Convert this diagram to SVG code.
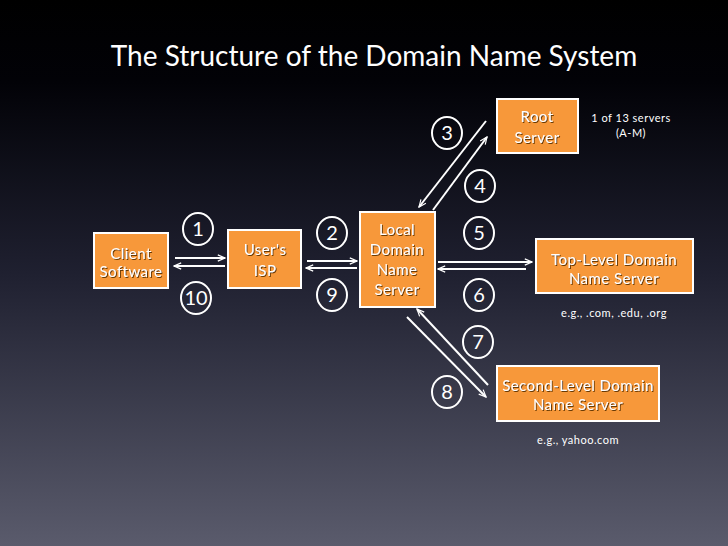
<svg xmlns="http://www.w3.org/2000/svg" width="728" height="546" viewBox="0 0 728 546">
<defs>
<linearGradient id="bg" x1="0" y1="0" x2="0" y2="1">
<stop offset="0" stop-color="#000000"/>
<stop offset="0.15" stop-color="#020207"/>
<stop offset="0.5" stop-color="#1f2030"/>
<stop offset="1" stop-color="#5a5b6c"/>
</linearGradient>
<filter id="sh" x="-10%" y="-10%" width="130%" height="130%">
<feDropShadow dx="1" dy="1" stdDeviation="0.4" flood-color="#5a3000" flood-opacity="0.9"/>
</filter>
<marker id="ah" viewBox="0 0 10 10" refX="9" refY="5" markerWidth="9" markerHeight="9" markerUnits="userSpaceOnUse" orient="auto">
<path d="M1,1.5 L9,5 L1,8.5" fill="none" stroke="#ffffff" stroke-width="1.3"/>
</marker>
<style>
.box{fill:#f7983a;stroke:#ffffff;stroke-width:2}
.bt{font-family:"Lato","Liberation Sans",sans-serif;font-size:15px;letter-spacing:0.45px;fill:#ffffff;text-anchor:middle;filter:url(#sh)}
.num{fill:none;stroke:#ffffff;stroke-width:2}
.nt{font-family:"Lato","Liberation Sans",sans-serif;font-size:20px;fill:#ffffff;text-anchor:middle}
.note{font-family:"Lato","Liberation Sans",sans-serif;font-size:11px;letter-spacing:0.5px;fill:#ffffff;text-anchor:middle}
.ln{stroke:#ffffff;stroke-width:2;fill:none;marker-end:url(#ah)}
</style>
</defs>
<rect width="728" height="546" fill="url(#bg)"/>
<text x="374" y="66" font-family="Lato,'Liberation Sans',sans-serif" font-size="28" fill="#ffffff" text-anchor="middle">The Structure of the Domain Name System</text>

<g id="client">
<rect class="box" x="94" y="233" width="74" height="55"/>
<text class="bt" x="131" y="259">Client</text>
<text class="bt" x="131" y="277">Software</text>
</g>
<g id="isp">
<rect class="box" x="228" y="230" width="73" height="58"/>
<text class="bt" x="265" y="255">User's</text>
<text class="bt" x="265" y="276">ISP</text>
</g>
<g id="local">
<rect class="box" x="360" y="212" width="75" height="95"/>
<text class="bt" x="397" y="235">Local</text>
<text class="bt" x="397" y="255">Domain</text>
<text class="bt" x="397" y="275">Name</text>
<text class="bt" x="397" y="295">Server</text>
</g>
<g id="root">
<rect class="box" x="497" y="99" width="81" height="54"/>
<text class="bt" x="537" y="122">Root</text>
<text class="bt" x="537" y="143">Server</text>
</g>
<g id="tld">
<rect class="box" x="536" y="239" width="157" height="54"/>
<text class="bt" x="614" y="265">Top-Level Domain</text>
<text class="bt" x="614" y="284">Name Server</text>
</g>
<g id="sld">
<rect class="box" x="497" y="366" width="162" height="55"/>
<text class="bt" x="578" y="391">Second-Level Domain</text>
<text class="bt" x="578" y="410">Name Server</text>
</g>

<g id="notes">
<text class="note" x="631" y="122">1 of 13 servers</text>
<text class="note" x="631" y="137">(A-M)</text>
<text class="note" x="614" y="317">e.g., .com, .edu, .org</text>
<text class="note" x="578" y="444">e.g., yahoo.com</text>
</g>

<g id="connectors">
<line class="ln" x1="175" y1="258" x2="225" y2="258"/>
<line class="ln" x1="225" y1="266" x2="174" y2="266"/>
<line class="ln" x1="307" y1="261" x2="357" y2="261"/>
<line class="ln" x1="357" y1="268" x2="306" y2="268"/>
<line class="ln" x1="438" y1="262" x2="532" y2="262"/>
<line class="ln" x1="526" y1="269" x2="438" y2="269"/>
<line class="ln" x1="486" y1="121" x2="419" y2="207"/>
<line class="ln" x1="433" y1="210" x2="487" y2="137"/>
<line class="ln" x1="488" y1="385" x2="417" y2="309"/>
<line class="ln" x1="407" y1="317" x2="486" y2="397"/>
</g>

<g id="step1"><ellipse class="num" cx="198" cy="229" rx="15" ry="16"/><text class="nt" x="198" y="236">1</text></g>
<g id="step10"><ellipse class="num" cx="196" cy="298" rx="15" ry="16"/><text class="nt" x="196" y="305">10</text></g>
<g id="step2"><ellipse class="num" cx="332" cy="233" rx="15" ry="16"/><text class="nt" x="332" y="240">2</text></g>
<g id="step9"><ellipse class="num" cx="332" cy="295" rx="15" ry="16"/><text class="nt" x="332" y="302">9</text></g>
<g id="step5"><ellipse class="num" cx="479" cy="233" rx="15" ry="16"/><text class="nt" x="479" y="240">5</text></g>
<g id="step6"><ellipse class="num" cx="479" cy="295" rx="15" ry="16"/><text class="nt" x="479" y="302">6</text></g>
<g id="step3"><ellipse class="num" cx="447" cy="133" rx="15" ry="16"/><text class="nt" x="447" y="140">3</text></g>
<g id="step4"><ellipse class="num" cx="480" cy="186" rx="15" ry="16"/><text class="nt" x="480" y="193">4</text></g>
<g id="step7"><ellipse class="num" cx="478" cy="342" rx="15" ry="16"/><text class="nt" x="478" y="349">7</text></g>
<g id="step8"><ellipse class="num" cx="447" cy="392" rx="15" ry="16"/><text class="nt" x="447" y="399">8</text></g>
</svg>
